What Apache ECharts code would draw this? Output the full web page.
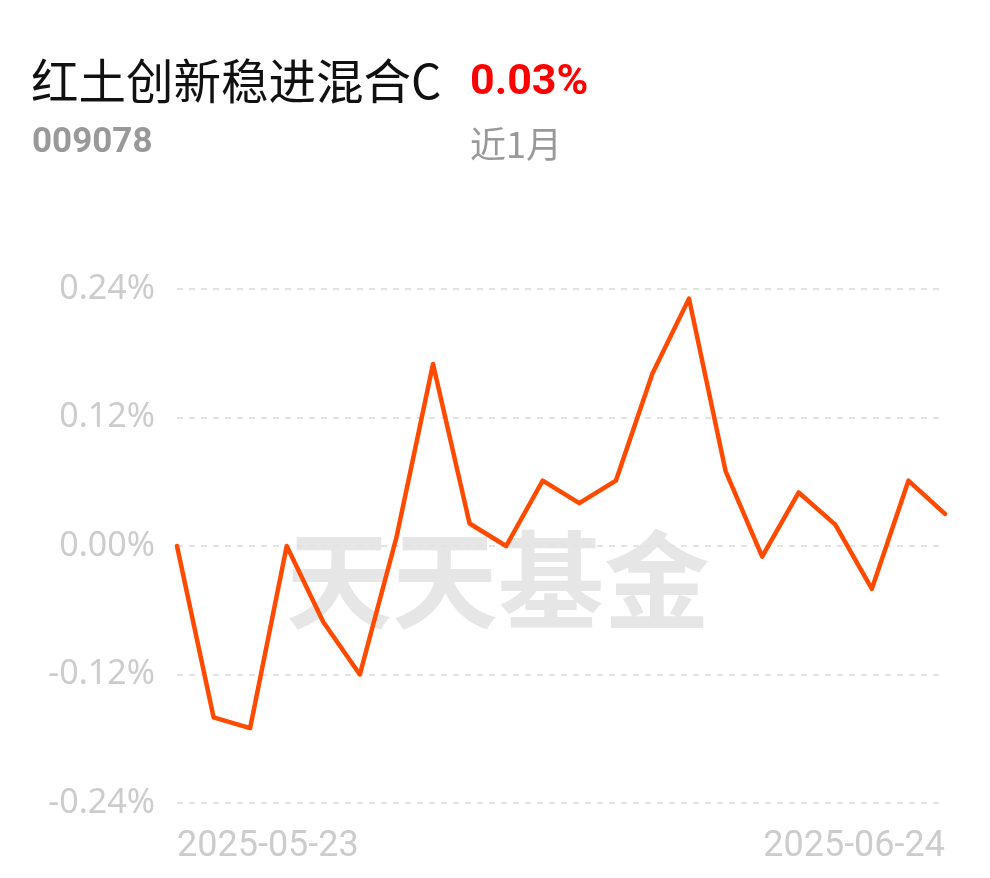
<!DOCTYPE html>
<html><head><meta charset="utf-8">
<script src="https://cdn.jsdelivr.net/npm/echarts@6/dist/echarts.min.js"></script>
<style>html,body{margin:0;padding:0;background:#fff}#c{width:990px;height:878px}</style>
</head><body><div id="c"></div>
<script>
const dates = ['2025-05-23','2025-05-26','2025-05-27','2025-05-28','2025-05-29','2025-05-30','2025-06-03','2025-06-04','2025-06-05','2025-06-06','2025-06-09','2025-06-10','2025-06-11','2025-06-12','2025-06-13','2025-06-16','2025-06-17','2025-06-18','2025-06-19','2025-06-20','2025-06-23','2025-06-24'];
const values = [0.00,-0.160,-0.170,0.00,-0.071,-0.120,0.008,0.170,0.021,0.00,0.061,0.040,0.061,0.161,0.231,0.070,-0.010,0.050,0.020,-0.040,0.061,0.030];
const yTicks = [-0.24,-0.12,0,0.12,0.24];
const fundName = '红土创新稳进混合C';
const fundCode = '009078';
const periodReturn = '0.03%';
const periodLabel = '近1月';
const watermark = '天天基金';

const chart = echarts.init(document.getElementById('c'));
const font = '"Noto Sans CJK SC","Noto Sans",sans-serif';
const num = 'Roboto,"Noto Sans",sans-serif';
chart.setOption({
  backgroundColor:'#fff',
  animation:false,
  graphic:[
    {type:'text',left:31,top:57,style:{text:fundName,fontSize:47.5,fill:'#111',fontFamily:font}},
    {type:'text',left:470,top:62,style:{text:periodReturn,fontSize:43,fontWeight:'bold',fill:'#f00',fontFamily:num}},
    {type:'text',left:32,top:126,style:{text:fundCode,fontSize:35,fontWeight:'bold',fill:'#999',fontFamily:num}},
    {type:'text',left:470,top:126,style:{text:periodLabel,fontSize:36,fill:'#999',fontFamily:font}},
    {type:'text',left:286,top:527,z:-1,style:{text:watermark,fontSize:106,fontWeight:'bold',fill:'#e6e6e6',fontFamily:font}}
  ],
  grid:{left:177,right:45,top:289,bottom:75,containLabel:false},
  xAxis:{
    type:'category',data:dates,boundaryGap:false,
    axisLine:{show:false},axisTick:{show:false},splitLine:{show:false},
    axisLabel:{
      interval:0,margin:26,color:'#cccccc',fontSize:36,fontFamily:num,
      alignMinLabel:'left',alignMaxLabel:'right',
      formatter:(v,i)=> (i===0||i===dates.length-1)?v:''
    }
  },
  yAxis:{
    type:'value',min:-0.24,max:0.24,interval:0.12,
    axisLine:{show:false},axisTick:{show:false},
    axisLabel:{margin:22,color:'#cccccc',fontSize:34,fontFamily:'"Noto Sans",Roboto,sans-serif',formatter:v=>v.toFixed(2)+'%'},
    splitLine:{show:true,lineStyle:{color:'#e3e3e3',type:[6,6],width:2}}
  },
  series:[{
    type:'line',data:values,symbol:'none',
    lineStyle:{color:'#ff4a00',width:4.5,cap:'round',join:'round'}
  }]
});
</script></body></html>
